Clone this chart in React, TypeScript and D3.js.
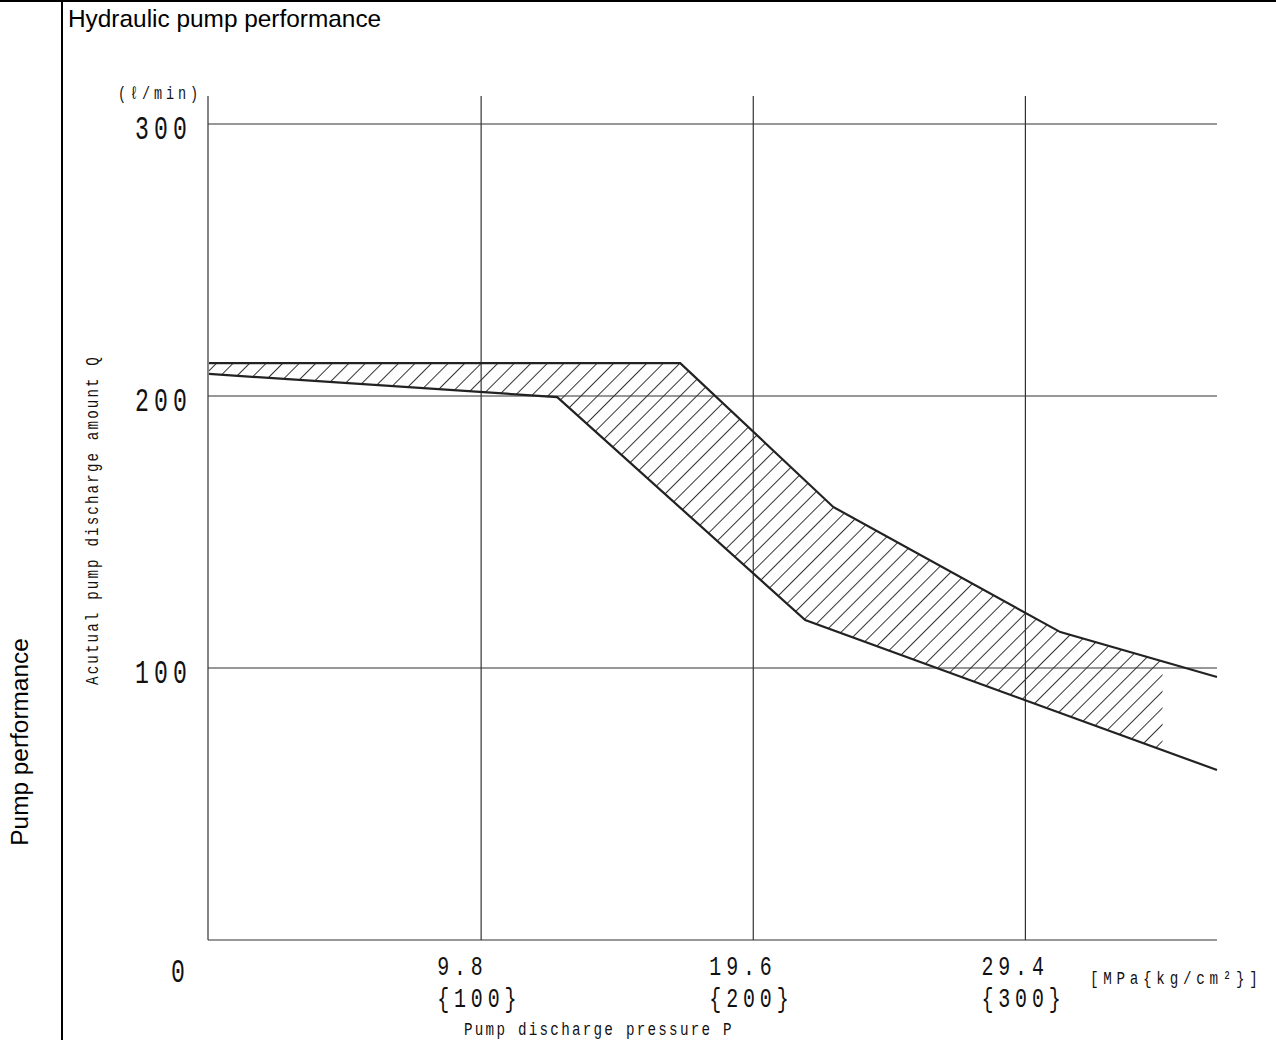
import * as d3 from "d3";

// pump discharge pressure P (MPa) vs actual discharge Q (l/min)
const upperCurve: [number, number][] = [
  [0, 212.1],
  [16.97, 212.1],
  [22.48, 159.2],
  [30.66, 113.2],
  [36.3, 96.7],
];
const lowerCurve: [number, number][] = [
  [0, 208.1],
  [12.54, 199.6],
  [21.47, 117.6],
  [36.3, 62.5],
];
const hatchEnd = 34.34;

const yTicks = [100, 200, 300];
const yTickLabels = ["100", "200", "300"];
const xTicks = [9.8, 19.6, 29.4];
const xTickLabels = ["9.8", "19.6", "29.4"];
const xTickSubLabels = ["{100}", "{200}", "{300}"];

const W = 1276;
const H = 1040;
const mono = "'Liberation Mono', 'DejaVu Sans Mono', monospace";
const sans = "'Liberation Sans', Arial, sans-serif";

// narrow "CAD" lettering: mono font squeezed horizontally
function Cad({
  x,
  y,
  size,
  sx = 0.7,
  ls = 0,
  rotate = 0,
  anchor = "start",
  children,
}: {
  x: number;
  y: number;
  size: number;
  sx?: number;
  ls?: number;
  rotate?: number;
  anchor?: string;
  children: any;
}) {
  return (
    <text
      transform={`translate(${x},${y}) rotate(${rotate}) scale(${sx},1)`}
      fontFamily={mono}
      fontSize={size}
      letterSpacing={ls}
      textAnchor={anchor}
      fill="#111"
    >
      {children}
    </text>
  );
}

export default function App() {
  const x = d3.scaleLinear([0, 36.3], [209, 1217]);
  const y = d3.scaleLinear([0, 300], [940, 124]);
  const line = d3.line<[number, number]>((d) => x(d[0]), (d) => y(d[1]));

  const band = [...upperCurve, ...lowerCurve.slice().reverse()];
  const bandPath = line(band) + "Z";

  const gridTop = 96;

  return (
    <div style={{ position: "absolute", left: 0, top: 0 }}>
      <svg width={W} height={H} style={{ display: "block", background: "#fff" }}>
        <defs>
          <pattern
            id="hatch"
            patternUnits="userSpaceOnUse"
            width={11.7}
            height={20}
            patternTransform="rotate(45)"
          >
            <line x1={0.5} y1={0} x2={0.5} y2={20} stroke="#333" strokeWidth={1} />
          </pattern>
          <clipPath id="hatchClip">
            <rect x={x(0)} y={0} width={x(hatchEnd) - x(0)} height={H} />
          </clipPath>
        </defs>

        {/* frame */}
        <line x1={0} x2={W} y1={1} y2={1} stroke="#000" strokeWidth={2} />
        <line x1={62} x2={62} y1={0} y2={H} stroke="#000" strokeWidth={2} />
        <text x={68} y={27} fontFamily={sans} fontSize={24.4} fill="#000">
          Hydraulic pump performance
        </text>
        <text
          transform={`translate(28,742) rotate(-90)`}
          textAnchor="middle"
          fontFamily={sans}
          fontSize={24.4}
          fill="#000"
        >
          Pump performance
        </text>

        {/* grid */}
        <g stroke="#333" strokeWidth={1.2}>
          <line x1={x(0) - 1} x2={x(0) - 1} y1={gridTop} y2={y(0)} />
          <line x1={x(0) - 1} x2={x.range()[1]} y1={y(0)} y2={y(0)} />
          {xTicks.map((t) => (
            <line key={t} x1={x(t)} x2={x(t)} y1={gridTop} y2={y(0)} />
          ))}
          {yTicks.map((t) => (
            <line key={t} x1={x(0) - 1} x2={x.range()[1]} y1={y(t)} y2={y(t)} />
          ))}
        </g>

        {/* hatched band */}
        <path d={bandPath} fill="url(#hatch)" clipPath="url(#hatchClip)" stroke="none" />
        <path d={line(upperCurve) ?? ""} fill="none" stroke="#222" strokeWidth={2.2} />
        <path d={line(lowerCurve) ?? ""} fill="none" stroke="#222" strokeWidth={2.2} />

        {/* y labels */}
        {yTicks.map((t, i) => (
          <Cad key={t} x={192} y={y(t) + 15} size={34} sx={0.68} ls={7.5} anchor="end">
            {yTickLabels[i]}
          </Cad>
        ))}
        <Cad x={171} y={982} size={34} sx={0.68}>0</Cad>
        <Cad x={118} y={99} size={18} sx={0.75} ls={5.2}>
          (ℓ/min)
        </Cad>
        <Cad x={98} y={(355 + 685) / 2} size={19} sx={0.75} ls={2.8} rotate={-90} anchor="middle">
          Acutual pump discharge amount Q
        </Cad>

        {/* x labels */}
        {xTicks.map((t, i) => (
          <g key={t}>
            <Cad x={x(t) - 44} y={974.5} size={28.5} sx={0.7} ls={7}>
              {xTickLabels[i]}
            </Cad>
            <Cad x={x(t) - 44} y={1007} size={28.5} sx={0.7} ls={7}>
              {xTickSubLabels[i]}
            </Cad>
          </g>
        ))}
        <Cad x={1090} y={984} size={19} sx={0.75} ls={6.3}>
          [MPa{"{"}kg/cm²{"}"}]
        </Cad>
        <Cad x={464} y={1035} size={19} sx={0.75} ls={3}>
          Pump discharge pressure P
        </Cad>
      </svg>
    </div>
  );
}
